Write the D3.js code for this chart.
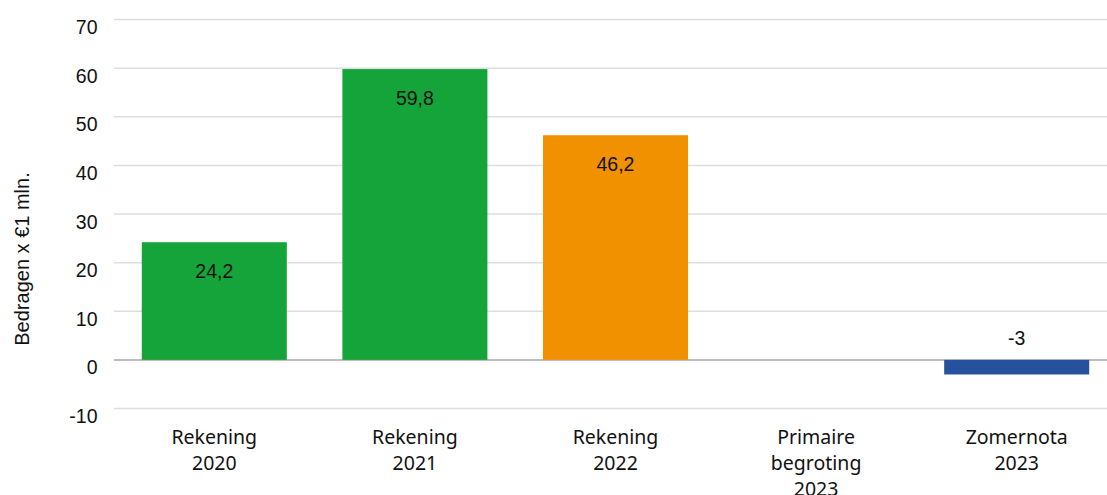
<!DOCTYPE html>
<html><head><meta charset="utf-8">
<script src="https://cdn.jsdelivr.net/npm/d3@7"></script>
<style>body{margin:0;background:#fff}</style>
</head><body>
<svg id="c" width="1107" height="495"></svg>
<script>
const categories = [["Rekening","2020"],["Rekening","2021"],["Rekening","2022"],["Primaire","begroting","2023"],["Zomernota","2023"]];
const values = [24.2, 59.8, 46.2, null, -3];
const valueLabels = ["24,2","59,8","46,2","","-3"];
const colors = ["#15a43a","#15a43a","#f29100","#15a43a","#26519c"];
const yTicks = [-10,0,10,20,30,40,50,60,70];
const yTitle = "Bedragen x €1 mln.";

const svg = d3.select("#c");
const x = d3.scaleBand().domain(d3.range(categories.length)).range([114, 1117]).paddingInner(0.277).paddingOuter(0.1385);
const y = d3.scaleLinear().domain([-10, 70]).range([408.5, 19.5]);

// gridlines
svg.append("g").selectAll("line").data(yTicks).join("line")
  .attr("x1", 114).attr("x2", 1117)
  .attr("y1", d => y(d)).attr("y2", d => y(d))
  .attr("stroke", d => d === 0 ? "#a8a8a8" : "#dedede").attr("stroke-width", 1.5);

// y tick labels
svg.append("g").selectAll("text").data(yTicks).join("text")
  .attr("x", 97.5).attr("y", d => y(d) + 14.5)
  .attr("text-anchor", "end")
  .attr("font-family", "Liberation Sans, Arial, sans-serif").attr("font-size", 19.5)
  .attr("fill", "#111").text(d => d);

// y title
svg.append("text").attr("transform", "translate(29,259) rotate(-90)")
  .attr("text-anchor", "middle")
  .attr("font-family", "Liberation Sans, Arial, sans-serif").attr("font-size", 20)
  .attr("fill", "#111").text(yTitle);

// bars
const idx = d3.range(values.length).filter(i => values[i] !== null);
svg.append("g").selectAll("rect").data(idx).join("rect")
  .attr("x", i => x(i)).attr("width", x.bandwidth())
  .attr("y", i => y(Math.max(0, values[i])))
  .attr("height", i => Math.abs(y(values[i]) - y(0)))
  .attr("fill", i => colors[i]);

// value labels
svg.append("g").selectAll("text").data(idx).join("text")
  .attr("x", i => x(i) + x.bandwidth()/2)
  .attr("y", i => values[i] >= 0 ? y(values[i]) + 36 : y(0) - 15)
  .attr("text-anchor", "middle")
  .attr("font-family", "Liberation Sans, Arial, sans-serif").attr("font-size", 19.5)
  .attr("fill", "#111").text(i => valueLabels[i]);

// category labels
const cg = svg.append("g").selectAll("text").data(categories).join("text")
  .attr("x", (d, i) => x(i) + x.bandwidth()/2)
  .attr("y", 444)
  .attr("text-anchor", "middle")
  .attr("font-family", "Noto Sans, sans-serif").attr("font-size", 19.5)
  .attr("fill", "#111");
cg.selectAll("tspan").data(d => d).join("tspan")
  .attr("x", function(){ return this.parentNode.getAttribute("x"); })
  .attr("dy", (d, j) => j === 0 ? 0 : 26)
  .text(d => d);
</script>
</body></html>
